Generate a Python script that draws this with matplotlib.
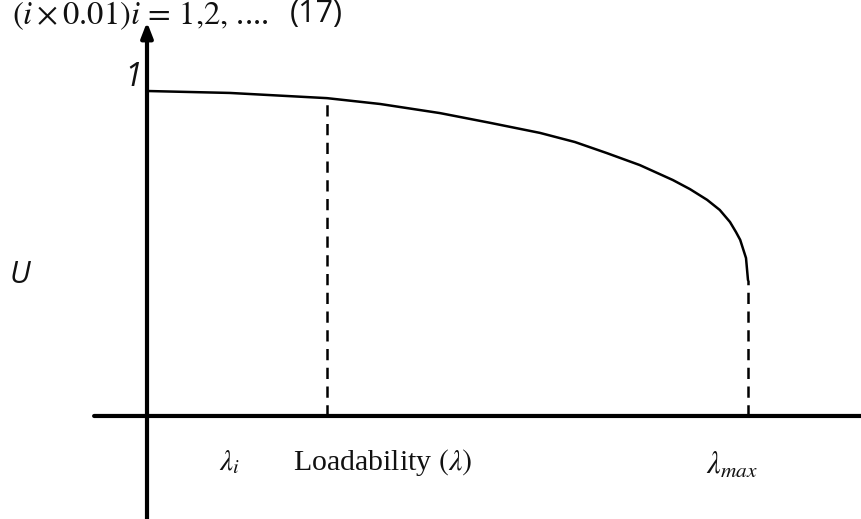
import matplotlib
matplotlib.use("Agg")
import matplotlib.pyplot as plt

plt.rcParams['mathtext.fontset'] = 'stix'

# Curve (lambda normalised so lambda_max = 1, U normalised so top = 1)
lam = [0.0, 0.138, 0.2995, 0.388, 0.4875, 0.571, 0.654, 0.712, 0.765, 0.82,
       0.875, 0.9035, 0.932, 0.953, 0.970, 0.980, 0.987, 0.9967, 1.0]
U = [1.0, 0.994, 0.978, 0.96, 0.932, 0.902, 0.871, 0.843, 0.809, 0.772,
     0.726, 0.698, 0.665, 0.634, 0.597, 0.566, 0.542, 0.486, 0.418]

lam_i = 0.2995
U_at_lam_i = 0.978
lam_max = 1.0
U_at_lam_max = 0.418

xlim = (-0.2446, 1.1897)
ylim = (-0.317, 1.28)

fig = plt.figure(figsize=(8.62, 5.19), dpi=100)
ax = fig.add_axes([0, 0, 1, 1])
ax.set_xlim(*xlim)
ax.set_ylim(*ylim)
ax.axis('off')

arrow = dict(arrowstyle='-|>,head_length=0.9,head_width=0.35', lw=3, color='black',
             shrinkA=0, shrinkB=0)
# axes with arrows
ax.annotate('', xy=(0, 1.212), xytext=(0, ylim[0]), arrowprops=arrow, annotation_clip=False)
ax.annotate('', xy=(1.225, 0), xytext=(-0.088, 0), arrowprops=arrow, annotation_clip=False)

# curve
ax.plot(lam, U, color='black', lw=1.8, solid_capstyle='round', solid_joinstyle='round')

# dashed verticals
ax.plot([lam_i, lam_i], [0, U_at_lam_i], color='black', lw=1.8, dashes=(4.5, 3))
ax.plot([lam_max, lam_max], [0, U_at_lam_max], color='black', lw=1.8, dashes=(4.5, 3))

# labels
ax.text(-0.008, 1.04, '1', fontsize=23, style='italic', family='Open Sans',
        ha='right', va='center', color='#111111')
ax.text(-0.211, 0.434, 'U', fontsize=22, style='italic', family='Open Sans',
        ha='center', va='center', color='#111111')

ax.text(0.138, -0.142, r'$\lambda_i$', fontsize=21, ha='center', va='center', color='#111111')
ax.text(0.393, -0.142, r'Loadability $(\lambda)$', fontsize=21.5, family='Liberation Serif',
        ha='center', va='center', color='#111111')
ax.text(0.973, -0.15, r'$\lambda_{max}$', fontsize=22, ha='center', va='center', color='#111111')

ax.text(-0.225, 1.232, r'$(i \times 0.01)i \,=\, 1{,}2{,}$ ....', fontsize=23.5,
        family='Liberation Serif', ha='left', va='center', color='#111111')
ax.text(0.238, 1.236, '(17)', fontsize=22, family='Open Sans',
        ha='left', va='center', color='#111111')

fig.savefig('out.png', dpi=100)
